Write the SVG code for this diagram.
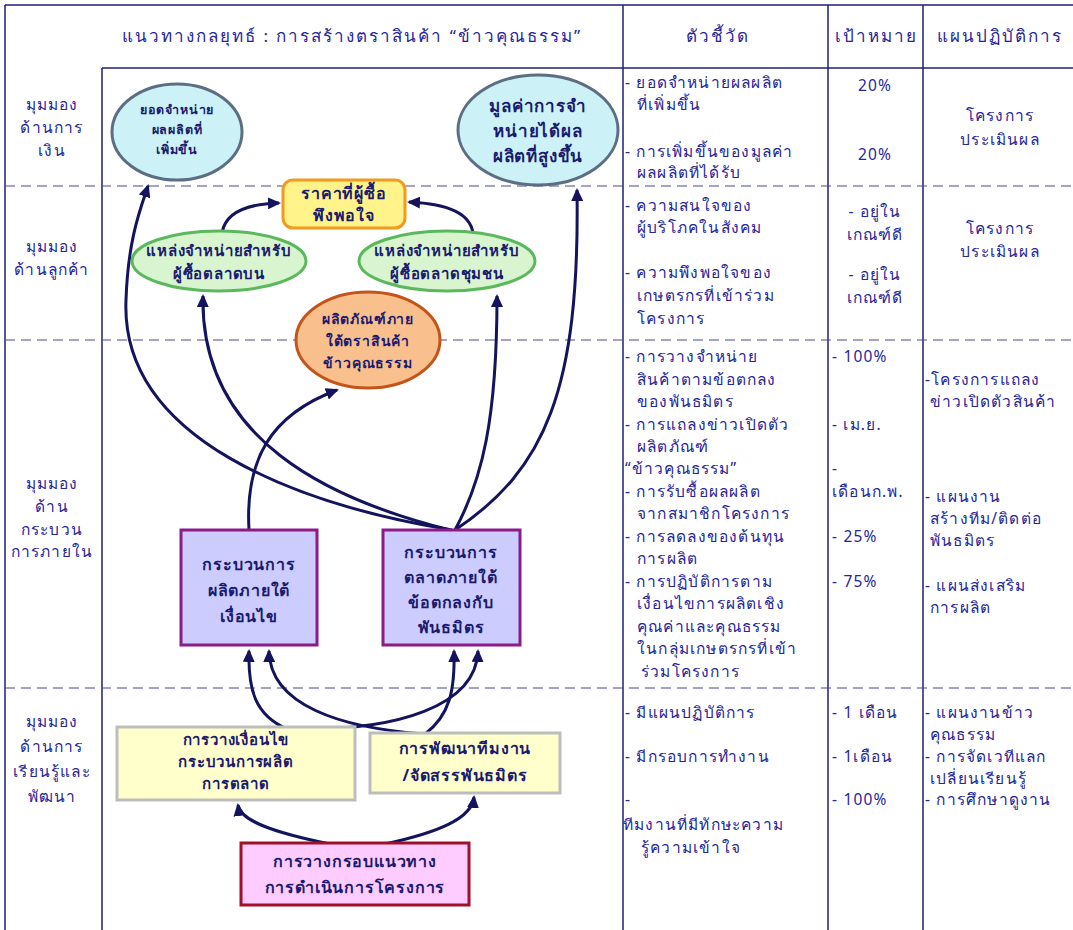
<svg xmlns="http://www.w3.org/2000/svg" width="1073" height="930" viewBox="0 0 1073 930">
<style>
text{font-family:"Noto Sans","DejaVu Sans",sans-serif;fill:#26269a;font-size:15.5px;letter-spacing:1.2px}
.h{font-size:17px;letter-spacing:2px}
.c{text-anchor:middle}
.n{text-anchor:middle;fill:#1a1a6e;font-weight:bold;font-size:14px;letter-spacing:0.8px}
.grid{stroke:#1f1f7a;stroke-width:1.5;fill:none}
.dash{stroke:#4a4a8a;stroke-width:1.2;stroke-dasharray:10 6;fill:none}
.con{stroke:#14145e;stroke-width:3;fill:none;marker-end:url(#ah)}
</style>
<defs>
<marker id="ah" markerWidth="14" markerHeight="12" refX="11" refY="6" orient="auto" markerUnits="userSpaceOnUse">
<path d="M0,0 L13,6 L0,12 z" fill="#14145e"/>
</marker>
</defs>
<rect width="1073" height="930" fill="#ffffff"/>
<g id="grid">
<path class="grid" d="M5,5 H1073 M5,5 V930 M102,68 V930 M102,68 H1073 M623,5 V930 M828,5 V930 M923,5 V930"/>
<path class="dash" d="M5,186 H1073 M5,340 H1073 M5,688 H1073"/>
</g>
<g id="headers">
<text class="h c" x="352" y="42">แนวทางกลยุทธ์ : การสร้างตราสินค้า “ข้าวคุณธรรม”</text>
<text class="h c" x="718" y="42">ตัวชี้วัด</text>
<text class="h c" x="876" y="42">เป้าหมาย</text>
<text class="h c" x="1000" y="42">แผนปฏิบัติการ</text>
</g>
<g id="row-labels">
<text class="c" x="52" y="110">มุมมอง</text>
<text class="c" x="52" y="133">ด้านการ</text>
<text class="c" x="52" y="156">เงิน</text>
<text class="c" x="52" y="252">มุมมอง</text>
<text class="c" x="52" y="275">ด้านลูกค้า</text>
<text class="c" x="52" y="489">มุมมอง</text>
<text class="c" x="52" y="512">ด้าน</text>
<text class="c" x="52" y="535">กระบวน</text>
<text class="c" x="52" y="557">การภายใน</text>
<text class="c" x="52" y="727">มุมมอง</text>
<text class="c" x="52" y="752">ด้านการ</text>
<text class="c" x="52" y="777">เรียนรู้และ</text>
<text class="c" x="52" y="802">พัฒนา</text>
</g>
<g id="connectors">
<path class="con" d="M452,530 C300,505 120,440 126,300 C128,240 140,210 148,186"/>
<path class="con" d="M455,530 C545,470 580,390 577,190"/>
<path class="con" d="M450,530 C330,500 200,440 203,296"/>
<path class="con" d="M455,530 C482,480 497,420 497,296"/>
<path class="con" d="M249,530 C245,460 270,415 337,390"/>
<path class="con" d="M222,233 C225,214 245,204 279,203"/>
<path class="con" d="M473,233 C470,214 450,204 409,202"/>
<path class="con" d="M287,729 C255,715 248,690 249,651"/>
<path class="con" d="M425,734 C340,728 270,705 269,651"/>
<path class="con" d="M287,729 C400,732 476,705 478,651"/>
<path class="con" d="M425,734 C450,715 455,690 454,651"/>
<path class="con" d="M330,844 C270,832 240,820 238,805"/>
<path class="con" d="M385,844 C440,832 472,818 474,797"/>
</g>
<g id="n-sales">
<ellipse cx="177" cy="132" rx="65" ry="48" fill="#ccf2f8" stroke="#5c6e82" stroke-width="3"/>
<text class="n" x="177" y="114" style="font-size:12.5px">ยอดจำหน่าย</text>
<text class="n" x="177" y="134" style="font-size:12.5px">ผลผลิตที่</text>
<text class="n" x="177" y="154" style="font-size:12.5px">เพิ่มขึ้น</text>
</g>
<g id="n-value">
<ellipse cx="538" cy="130" rx="80" ry="55" fill="#ccf2f8" stroke="#5c6e82" stroke-width="3"/>
<text class="n" x="538" y="112" style="font-size:17px">มูลค่าการจำ</text>
<text class="n" x="538" y="137" style="font-size:17px">หน่ายได้ผล</text>
<text class="n" x="538" y="162" style="font-size:17px">ผลิตที่สูงขึ้น</text>
</g>
<g id="n-price">
<rect x="283" y="180" width="122" height="48" rx="10" fill="#fff38a" stroke="#f39a1e" stroke-width="3"/>
<text class="n" x="344" y="199" style="font-size:16px">ราคาที่ผู้ซื้อ</text>
<text class="n" x="344" y="221" style="font-size:16px">พึงพอใจ</text>
</g>
<g id="n-upper">
<ellipse cx="219" cy="261" rx="87" ry="30" fill="#d8f5d0" stroke="#5cb85c" stroke-width="3"/>
<text class="n" x="219" y="256" style="font-size:15px">แหล่งจำหน่ายสำหรับ</text>
<text class="n" x="219" y="279" style="font-size:15px">ผู้ซื้อตลาดบน</text>
</g>
<g id="n-community">
<ellipse cx="447" cy="261" rx="88" ry="30" fill="#d8f5d0" stroke="#5cb85c" stroke-width="3"/>
<text class="n" x="447" y="256" style="font-size:15px">แหล่งจำหน่ายสำหรับ</text>
<text class="n" x="447" y="279" style="font-size:15px">ผู้ซื้อตลาดชุมชน</text>
</g>
<g id="n-product">
<ellipse cx="368" cy="340" rx="72" ry="48" fill="#f9c08e" stroke="#c4541a" stroke-width="3"/>
<text class="n" x="368" y="324" style="font-size:14px">ผลิตภัณฑ์ภาย</text>
<text class="n" x="368" y="346" style="font-size:14px">ใต้ตราสินค้า</text>
<text class="n" x="368" y="368" style="font-size:14px">ข้าวคุณธรรม</text>
</g>
<g id="n-production">
<rect x="181" y="530" width="136" height="115" fill="#ccccff" stroke="#8b1a8b" stroke-width="3"/>
<text class="n" x="249" y="570" style="font-size:16px">กระบวนการ</text>
<text class="n" x="249" y="596" style="font-size:16px">ผลิตภายใต้</text>
<text class="n" x="249" y="622" style="font-size:16px">เงื่อนไข</text>
</g>
<g id="n-marketing">
<rect x="383" y="530" width="137" height="115" fill="#ccccff" stroke="#8b1a8b" stroke-width="3"/>
<text class="n" x="451" y="558" style="font-size:16px">กระบวนการ</text>
<text class="n" x="451" y="583" style="font-size:16px">ตลาดภายใต้</text>
<text class="n" x="451" y="608" style="font-size:16px">ข้อตกลงกับ</text>
<text class="n" x="451" y="633" style="font-size:16px">พันธมิตร</text>
</g>
<g id="n-conditions">
<rect x="117" y="727" width="238" height="73" fill="#ffffcc" stroke="#bdbdbd" stroke-width="3"/>
<text class="n" x="236" y="745" style="font-size:15px">การวางเงื่อนไข</text>
<text class="n" x="236" y="767" style="font-size:15px">กระบวนการผลิต</text>
<text class="n" x="236" y="789" style="font-size:15px">การตลาด</text>
</g>
<g id="n-team">
<rect x="370" y="733" width="190" height="60" fill="#ffffcc" stroke="#bdbdbd" stroke-width="3"/>
<text class="n" x="465" y="754" style="font-size:16px">การพัฒนาทีมงาน</text>
<text class="n" x="465" y="781" style="font-size:16px">/จัดสรรพันธมิตร</text>
</g>
<g id="n-framework">
<rect x="241" y="843" width="228" height="62" fill="#ffccff" stroke="#a0102a" stroke-width="3"/>
<text class="n" x="355" y="867" style="font-size:16px">การวางกรอบแนวทาง</text>
<text class="n" x="355" y="893" style="font-size:16px">การดำเนินการโครงการ</text>
</g>
<g id="indicators">
<text x="625" y="88">- ยอดจำหน่ายผลผลิต</text>
<text x="637" y="110">ที่เพิ่มขึ้น</text>
<text x="625" y="157">- การเพิ่มขึ้นของมูลค่า</text>
<text x="637" y="178">ผลผลิตที่ได้รับ</text>
<text x="625" y="211">- ความสนใจของ</text>
<text x="637" y="233">ผู้บริโภคในสังคม</text>
<text x="625" y="278">- ความพึงพอใจของ</text>
<text x="637" y="301">เกษตรกรที่เข้าร่วม</text>
<text x="637" y="324">โครงการ</text>
<text x="625" y="362">- การวางจำหน่าย</text>
<text x="637" y="385">สินค้าตามข้อตกลง</text>
<text x="637" y="407">ของพันธมิตร</text>
<text x="625" y="430">- การแถลงข่าวเปิดตัว</text>
<text x="637" y="452">ผลิตภัณฑ์</text>
<text x="625" y="474">“ข้าวคุณธรรม”</text>
<text x="625" y="497">- การรับซื้อผลผลิต</text>
<text x="637" y="519">จากสมาชิกโครงการ</text>
<text x="625" y="542">- การลดลงของต้นทุน</text>
<text x="637" y="564">การผลิต</text>
<text x="625" y="587">- การปฏิบัติการตาม</text>
<text x="637" y="609">เงื่อนไขการผลิตเชิง</text>
<text x="637" y="632">คุณค่าและคุณธรรม</text>
<text x="637" y="654">ในกลุ่มเกษตรกรที่เข้า</text>
<text x="641" y="677">ร่วมโครงการ</text>
<text x="625" y="718">- มีแผนปฏิบัติการ</text>
<text x="625" y="762">- มีกรอบการทำงาน</text>
<text x="625" y="805">-</text>
<text x="623" y="830">ทีมงานที่มีทักษะความ</text>
<text x="641" y="853">รู้ความเข้าใจ</text>
</g>
<g id="targets">
<text class="c" x="875" y="91">20%</text>
<text class="c" x="875" y="160">20%</text>
<text class="c" x="875" y="217">- อยู่ใน</text>
<text class="c" x="875" y="240">เกณฑ์ดี</text>
<text class="c" x="875" y="280">- อยู่ใน</text>
<text class="c" x="875" y="303">เกณฑ์ดี</text>
<text x="832" y="362">-    100%</text>
<text x="832" y="430">-    เม.ย.</text>
<text x="832" y="474">-</text>
<text x="832" y="497">เดือนก.พ.</text>
<text x="832" y="542">-    25%</text>
<text x="832" y="587">-    75%</text>
<text x="832" y="718">- 1 เดือน</text>
<text x="832" y="762">- 1เดือน</text>
<text x="832" y="805">-   100%</text>
</g>
<g id="plans">
<text class="c" x="1000" y="121">โครงการ</text>
<text class="c" x="1000" y="145">ประเมินผล</text>
<text class="c" x="1000" y="234">โครงการ</text>
<text class="c" x="1000" y="257">ประเมินผล</text>
<text x="925" y="385">-โครงการแถลง</text>
<text x="930" y="407">ข่าวเปิดตัวสินค้า</text>
<text x="925" y="502">- แผนงาน</text>
<text x="930" y="524">สร้างทีม/ติดต่อ</text>
<text x="930" y="546">พันธมิตร</text>
<text x="925" y="591">- แผนส่งเสริม</text>
<text x="930" y="613">การผลิต</text>
<text x="925" y="718">- แผนงานข้าว</text>
<text x="930" y="740">คุณธรรม</text>
<text x="925" y="762">- การจัดเวทีแลก</text>
<text x="930" y="784">เปลี่ยนเรียนรู้</text>
<text x="925" y="805">- การศึกษาดูงาน</text>
</g>
</svg>
